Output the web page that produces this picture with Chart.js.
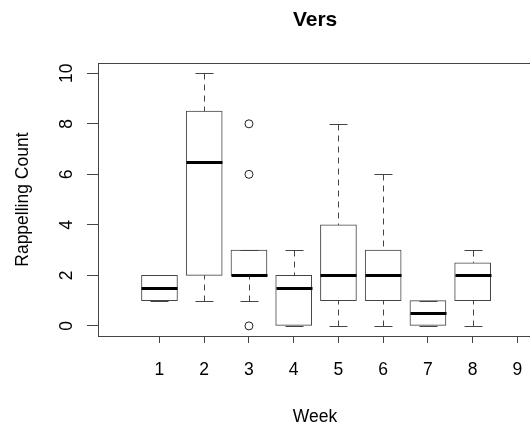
<!DOCTYPE html>
<html><head><meta charset="utf-8">
<script src="https://cdn.jsdelivr.net/npm/chart.js@4.4.1/dist/chart.umd.min.js"></script>
<style>html,body{margin:0;padding:0;overflow:hidden;background:#fff}</style>
</head><body>
<canvas id="c" width="539" height="432" style="display:block"></canvas>
<script>
// ---- data ----
const weeks        = [1, 2, 3, 4, 5, 6, 7, 8];
const whiskerLow   = [1, 1, 1, 0, 0, 0, 0, 0];
const q1           = [1, 2, 2, 0, 1, 1, 0, 1];
const medians      = [1.5, 6.5, 2, 1.5, 2, 2, 0.5, 2];
const q3           = [2, 8.5, 3, 2, 4, 3, 1, 2.5];
const whiskerHigh  = [2, 10, 3, 3, 8, 6, 1, 3];
const outlierWeeks = [3, 3, 3];
const outlierVals  = [8, 6, 0];
const xTickLabels  = [1, 2, 3, 4, 5, 6, 7, 8, 9];
const yTickLabels  = [0, 2, 4, 6, 8, 10];

const FONT = "'Liberation Sans', Arial, Helvetica, sans-serif";
const LINE = '#444';

const framePlugin = {
  id: 'frame',
  afterDatasetsDraw(chart) {
    const a = chart.chartArea, ctx = chart.ctx;
    ctx.save();
    ctx.strokeStyle = LINE; ctx.lineWidth = 1;
    const l = Math.floor(a.left) + 0.5, t = Math.floor(a.top) + 0.5;
    const r = Math.floor(a.right) + 0.5, b = Math.floor(a.bottom) + 0.5;
    ctx.strokeRect(l, t, r - l, b - t);
    ctx.restore();
  }
};

const boxPlugin = {
  id: 'boxParts',
  afterDatasetsDraw(chart) {
    const xs = chart.scales.x, ys = chart.scales.y, ctx = chart.ctx;
    const bars = chart.getDatasetMeta(0).data;
    ctx.save();
    weeks.forEach((w, i) => {
      const cx = Math.round(xs.getPixelForValue(w)) + 0.5;
      const half = bars[i].width / 2;
      const cap = half / 2;
      const pQ1 = ys.getPixelForValue(q1[i]);
      const pQ3 = ys.getPixelForValue(q3[i]);
      const pLo = Math.round(ys.getPixelForValue(whiskerLow[i])) + 0.5;
      const pHi = Math.round(ys.getPixelForValue(whiskerHigh[i])) + 0.5;
      ctx.strokeStyle = LINE; ctx.lineWidth = 1;
      // dashed whiskers
      ctx.setLineDash([6, 5]);
      ctx.beginPath();
      if (whiskerHigh[i] > q3[i]) { ctx.moveTo(cx, pHi); ctx.lineTo(cx, pQ3); }
      if (whiskerLow[i] < q1[i]) { ctx.moveTo(cx, pLo); ctx.lineTo(cx, pQ1); }
      ctx.stroke();
      // staples
      ctx.setLineDash([]);
      ctx.beginPath();
      ctx.moveTo(cx - cap, pHi); ctx.lineTo(cx + cap, pHi);
      ctx.moveTo(cx - cap, pLo); ctx.lineTo(cx + cap, pLo);
      ctx.stroke();
      // median
      const pMed = Math.round(ys.getPixelForValue(medians[i])) + 0.5;
      ctx.strokeStyle = '#000'; ctx.lineWidth = 3;
      ctx.beginPath();
      ctx.moveTo(cx - half, pMed); ctx.lineTo(cx + half, pMed);
      ctx.stroke();
    });
    ctx.restore();
  }
};

new Chart(document.getElementById('c'), {
  type: 'bar',
  data: {
    datasets: [
      {
        label: 'box',
        data: weeks.map((w, i) => ({ x: w, y: [q1[i], q3[i]] })),
        backgroundColor: '#ffffff',
        borderColor: LINE,
        borderWidth: 1,
        borderSkipped: false,
        barThickness: 36
      },
      {
        type: 'scatter',
        label: 'outliers',
        data: outlierWeeks.map((w, i) => ({ x: w, y: outlierVals[i] })),
        pointStyle: 'circle',
        pointRadius: 4,
        borderColor: '#222',
        borderWidth: 1,
        backgroundColor: 'rgba(0,0,0,0)'
      }
    ]
  },
  options: {
    responsive: false,
    animation: false,
    layout: { padding: 0, autoPadding: false },
    plugins: {
      legend: { display: false },
      tooltip: { enabled: false },
      title: {
        display: true,
        text: 'Vers',
        fullSize: false,
        color: '#000',
        font: { family: FONT, size: 21, weight: 'bold', lineHeight: 1.2 },
        padding: { top: 8, bottom: 30 }
      }
    },
    scales: {
      x: {
        type: 'linear',
        min: -0.374,
        max: 9.33,
        offset: false,
        grid: { offset: false, drawOnChartArea: false, tickLength: 7, color: LINE },
        border: { display: false },
        afterBuildTicks: s => { s.ticks = xTickLabels.map(v => ({ value: v })); },
        afterFit: s => { s.height = 96; },
        ticks: { color: '#000', font: { family: FONT, size: 17.5 }, padding: 16.5, maxRotation: 0, autoSkip: false },
        title: { display: true, text: 'Week', color: '#000', font: { family: FONT, size: 17.5, lineHeight: 1.2 }, padding: { top: 0, bottom: 4.5 } }
      },
      y: {
        type: 'linear',
        min: -0.4,
        max: 10.4,
        grid: { drawOnChartArea: false, tickLength: 11, color: LINE },
        border: { display: false },
        afterBuildTicks: s => { s.ticks = yTickLabels.map(v => ({ value: v })); },
        afterFit: s => { s.width = 98; },
        ticks: { color: '#000', font: { family: FONT, size: 17.5 }, padding: 10.3, minRotation: 90, maxRotation: 90, crossAlign: 'center' },
        title: { display: true, text: 'Rappelling Count', color: '#000', font: { family: FONT, size: 17.5, lineHeight: 1.2 }, padding: { top: 12.5, bottom: 0 } }
      }
    }
  },
  plugins: [framePlugin, boxPlugin]
});
</script>
</body></html>
